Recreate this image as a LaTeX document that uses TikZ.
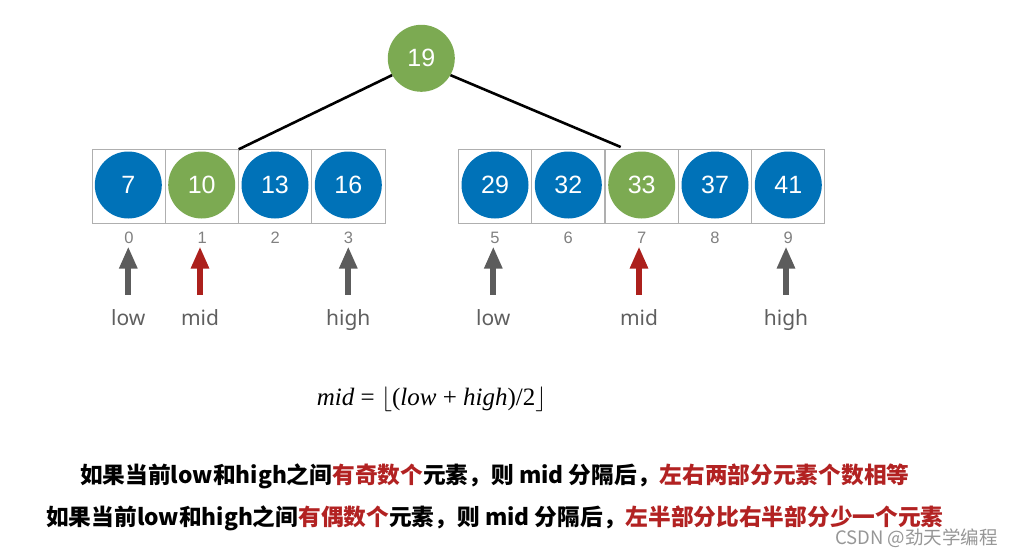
\documentclass[tikz,border=0pt]{standalone}
\usepackage{fontspec}
\setmainfont{Liberation Sans}
\newfontfamily\cjk{Noto Sans CJK SC}
\newfontfamily\notosans{Noto Sans}
\newfontfamily\tnr{Liberation Serif}
\usetikzlibrary{arrows.meta}
\definecolor{cblue}{RGB}{0,114,184}
\definecolor{cgreen}{RGB}{124,170,82}
\definecolor{cred}{RGB}{178,34,34}
\definecolor{ared}{RGB}{172,32,28}
\definecolor{agray}{RGB}{92,92,92}
\definecolor{lgray}{RGB}{95,95,95}
\definecolor{boxgray}{RGB}{175,175,175}
\tikzset{
  cell/.style={draw=boxgray, line width=0.9pt, minimum width=73.2pt, minimum height=74pt, inner sep=0pt},
  ball/.style={circle, minimum size=67pt, inner sep=0pt, text=white, font=\fontsize{25}{25}\selectfont},
  blueball/.style={ball, fill=cblue},
  greenball/.style={ball, fill=cgreen},
  idx/.style={text=gray, font=\fontsize{16.5}{16.5}\selectfont, inner sep=0pt},
  lbl/.style={text=lgray, font=\notosans\fontsize{21}{21}\selectfont, inner sep=0pt, anchor=base},
  arr/.style={line width=6pt, -{Triangle[width=17pt,length=22pt]}},
  tree/.style={line width=2.6pt, black},
  zh/.style={font=\cjk\bfseries\fontsize{22.7}{22.7}\selectfont, inner sep=0pt, anchor=west}
}
\begin{document}
\begin{tikzpicture}[x=1pt,y=-1pt]
\useasboundingbox (0,0) rectangle (1013,549);
% cells
\foreach \i/\x in {0/128.9,1/202.1,2/275.3,3/348.5,5/495.0,6/568.3,7/641.6,8/714.9,9/788.2}{
  \node[cell] (c\i) at (\x,186.3) {};
  \node[idx] (i\i) at (\x,238) {\i};
}
% balls
\foreach \i/\x/\v/\s in {0/128.3/7/blueball,1/201.7/10/greenball,2/275.0/13/blueball,3/348.3/16/blueball,5/495.0/29/blueball,6/568.3/32/blueball,7/641.7/33/greenball,8/715.0/37/blueball,9/788.3/41/blueball}{
  \node[\s] (b\i) at (\x,185) {\v};
}
% root
\node[greenball] (root) at (421.3,58.3) {19};
\coordinate (lt) at (238.7,149.3);
\coordinate (rt) at (620.7,147);
\draw[tree] (root.210) -- (lt);
\draw[tree] (root.330) -- (rt);
% pointer labels and arrows
\foreach \n/\x/\t/\c in {l0/128.3/low/agray,m1/200/mid/ared,h3/348.3/high/agray,l5/493.3/low/agray,m7/639/mid/ared,h9/786/high/agray}{
  \node[lbl] (t\n) at (\x,325) {\t};
  \coordinate (s\n) at (\x,294.5);
  \coordinate (e\n) at (\x,246.5);
  \draw[arr, draw=\c, fill=\c] (s\n) -- (e\n);
}
% formula
\node[font=\tnr\fontsize{25}{25}\selectfont, inner sep=0pt] (formula) at (431.7,399)
  {\textit{mid} = $\lfloor$(\textit{low} + \textit{high})/2$\rfloor$};
% Chinese text
\node[zh] (line1) at (80,476.5) {如果当前low和high之间\textcolor{cred}{有奇数个}元素，则 mid 分隔后，\textcolor{cred}{左右两部分元素个数相等}};
\node[zh] (line2) at (46,518) {如果当前low和high之间\textcolor{cred}{有偶数个}元素，则 mid 分隔后，\textcolor{cred}{左半部分比右半部分少一个元素}};
% watermark
\node[font=\cjk\fontsize{18.5}{18.5}\selectfont, text={rgb,255:red,150;green,150;blue,150}, anchor=east, inner sep=0pt] (csdn) at (998,538) {CSDN @劲天学编程};
\end{tikzpicture}
\end{document}
